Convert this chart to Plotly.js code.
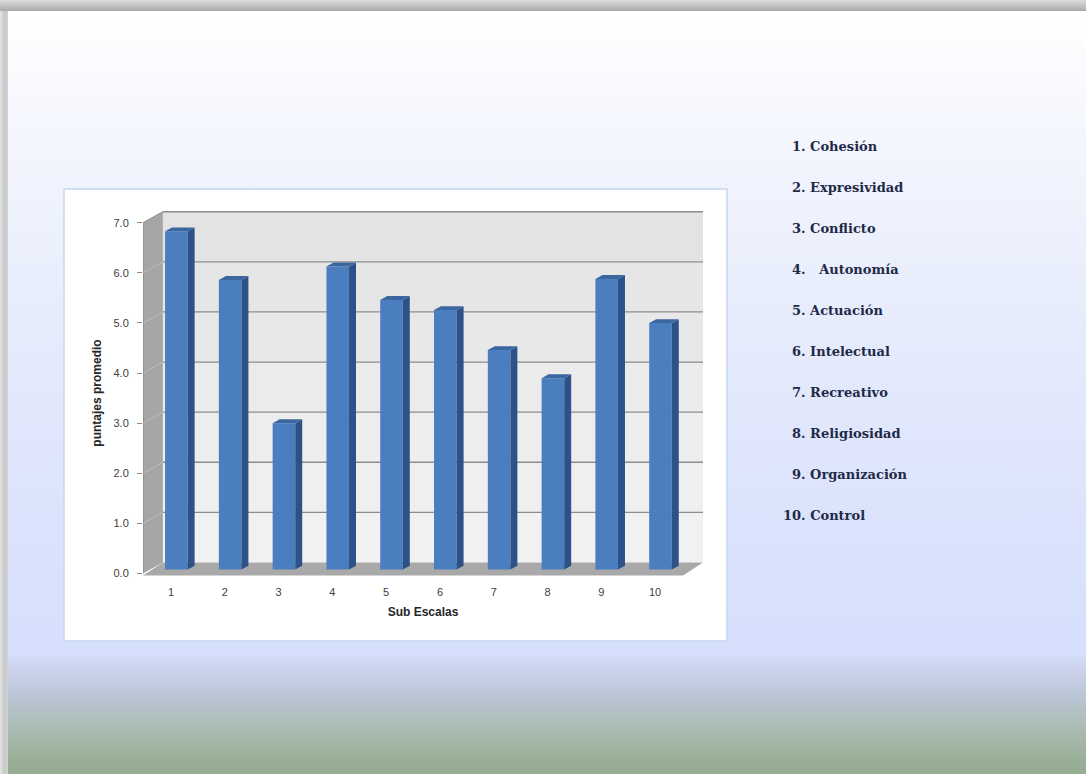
<!DOCTYPE html>
<html>
<head>
<meta charset="utf-8">
<script src="https://cdn.plot.ly/plotly-3.0.1.min.js"></script>
<style>
  html, body { margin: 0; padding: 0; }
  body {
    width: 1086px; height: 774px; overflow: hidden; position: relative;
    background: linear-gradient(to bottom, #ffffff 0px, #ffffff 14px, #f6f8fe 110px, #e8edfc 300px, #dbe3fc 520px, #d6dffc 652px, #cad2ea 672px, #bcc7d8 694px, #abbcb4 728px, #9aaf97 760px, #95ab92 774px);
  }
  #topband { position: absolute; left: 0; top: 0; width: 1086px; height: 11px;
    background: linear-gradient(to bottom, #dcdcdc, #b9b9b9 70%, #a9a9a9); }
  #leftband { position: absolute; left: 0; top: 11px; width: 8px; height: 763px;
    background: linear-gradient(to right, #e4e4e4, #c6c6c6 60%, #d4d4d4); }
  #chart { position: absolute; left: 0; top: 0; width: 1086px; height: 774px; }
</style>
</head>
<body>
<div id="topband"></div>
<div id="leftband"></div>
<div id="chart"></div>
<script>
// ---- data ----
const subscaleIds = [1, 2, 3, 4, 5, 6, 7, 8, 9, 10];
const meanScores = [6.75, 5.78, 2.92, 6.05, 5.38, 5.18, 4.38, 3.82, 5.8, 4.92];
const subscaleNames = ['1. Cohesión', '2. Expresividad', '3. Conflicto', '4.   Autonomía', '5. Actuación',
  '6. Intelectual', '7. Recreativo', '8. Religiosidad', '9. Organización', '10. Control'];
const yTickValues = [0, 1, 2, 3, 4, 5, 6, 7];
const yTickLabels = ['0.0', '1.0', '2.0', '3.0', '4.0', '5.0', '6.0', '7.0'];

// ---- 3D look constants (style only) ----
const DX = 0.37, DY = 0.22;           // full depth offset in axis units
const X0 = 0.48, X1 = 10.52;          // floor front left/right
const YTOP = 7;
const BAR_W = 0.42, BAR_OFF = -0.11;  // front face width / offset
const BAR_F = 0.36;                   // bar front depth fraction
const BAR_D = 0.35;                   // bar depth fraction
const base = BAR_F * DY;
const bdx = BAR_D * DX, bdy = BAR_D * DY;

const L = 143, R = 383, T = 210, B = 198, W = 1086, H = 774;
const pw = W - L - R, ph = H - T - B;
const px2x = px => (px - L) / pw;
const py2y = py => (H - B - py) / ph;

function poly(pts) {
  return 'M ' + pts.map(p => p[0] + ',' + p[1]).join(' L ') + ' Z';
}

const shapes = [];
// white chart box
shapes.push({type: 'rect', xref: 'paper', yref: 'paper', layer: 'below',
  x0: px2x(64), x1: px2x(727), y0: py2y(641), y1: py2y(189),
  fillcolor: '#ffffff', line: {color: '#c3d7ee', width: 1.5}});
// back wall, in bands getting lighter toward the floor
const wallShades = ['#f1f1f1', '#efefef', '#ededed', '#ebebeb', '#e8e8e8', '#e6e6e6', '#e3e3e3'];
wallShades.forEach((c, k) => {
  shapes.push({type: 'path', xref: 'x', yref: 'y', layer: 'below',
    path: poly([[X0 + DX, k + DY], [X1 + DX, k + DY], [X1 + DX, k + 1 + DY], [X0 + DX, k + 1 + DY]]),
    fillcolor: c, line: {width: 0}});
});
// left wall
shapes.push({type: 'path', xref: 'x', yref: 'y', layer: 'below',
  path: poly([[X0, 0], [X0 + DX, DY], [X0 + DX, YTOP + DY], [X0, YTOP]]),
  fillcolor: '#a6a6a6', line: {width: 0}});
// floor
shapes.push({type: 'path', xref: 'x', yref: 'y', layer: 'below',
  path: poly([[X0, -0.04], [X1, -0.04], [X1 + DX, DY], [X0 + DX, DY]]),
  fillcolor: '#a9a9a9', line: {width: 0}});
// gridlines
yTickValues.forEach(v => {
  if (v > 0) {
    shapes.push({type: 'line', xref: 'x', yref: 'y', layer: 'below',
      x0: X0 + DX, x1: X1 + DX, y0: v + DY, y1: v + DY,
      line: {color: '#8c8c8c', width: 1.3}});
    shapes.push({type: 'line', xref: 'x', yref: 'y', layer: 'below',
      x0: X0, x1: X0 + DX, y0: v, y1: v + DY,
      line: {color: '#bdbdbd', width: 1}});
  }
});
// front left edge
shapes.push({type: 'line', xref: 'x', yref: 'y', layer: 'below',
  x0: X0, x1: X0, y0: 0, y1: YTOP, line: {color: '#8a8a8a', width: 1.2}});
shapes.push({type: 'line', xref: 'x', yref: 'y', layer: 'below',
  x0: X0, x1: X0 + DX, y0: YTOP, y1: YTOP + DY, line: {color: '#8a8a8a', width: 1}});

// bar side + top faces from the data
const sideX = [], sideY = [], topX = [], topY = [];
subscaleIds.forEach((id, i) => {
  const v = meanScores[i];
  const xl = id + BAR_OFF, xr = id + BAR_OFF + BAR_W;
  const top = base + v;
  sideX.push(xr, xr + bdx, xr + bdx, xr, null);
  sideY.push(base, base + bdy, top + bdy, top, null);
  topX.push(xl, xl + bdx, xr + bdx, xr, null);
  topY.push(top, top + bdy, top + bdy, top, null);
});

const traces = [
  {type: 'bar', x: subscaleIds, y: meanScores, base: base, width: BAR_W, offset: BAR_OFF,
   marker: {color: '#4b7ebe', line: {width: 0}}, name: 'puntajes promedio'},
  {type: 'scatter', mode: 'lines', x: sideX, y: sideY, fill: 'toself',
   fillcolor: '#2d5287', line: {width: 0, color: '#2d5287'}},
  {type: 'scatter', mode: 'lines', x: topX, y: topY, fill: 'toself',
   fillcolor: '#3b669f', line: {width: 0, color: '#3b669f'}}
];

const annotations = subscaleNames.map((name, i) => ({
  xref: 'paper', yref: 'paper', xanchor: 'left', yanchor: 'middle', showarrow: false,
  x: px2x(i === 9 ? 781 : 790), y: py2y(146 + i * 41.1),
  text: name, font: {family: 'DejaVu Serif', size: 13, color: '#1e2a48', weight: 'bold'}
}));

const layout = {
  width: W, height: H,
  margin: {l: L, r: R, t: T, b: B, pad: 0},
  paper_bgcolor: 'rgba(0,0,0,0)', plot_bgcolor: 'rgba(0,0,0,0)',
  showlegend: false, hovermode: false,
  xaxis: {range: [X0, X1 + DX], tickvals: subscaleIds, ticktext: subscaleIds.map(String),
    showgrid: false, zeroline: false, showline: false,
    ticks: 'outside', ticklen: 6, tickcolor: 'rgba(0,0,0,0)',
    tickfont: {family: 'Liberation Sans', size: 11, color: '#404040'},
    title: {text: 'Sub Escalas', standoff: 10,
      font: {family: 'Liberation Sans', size: 12, color: '#262626', weight: 'bold'}}},
  yaxis: {range: [-0.05, YTOP + DY + 0.035], tickvals: yTickValues, ticktext: yTickLabels,
    showgrid: false, zeroline: false, showline: false,
    ticks: 'outside', ticklen: 5, tickcolor: '#8a8a8a', tickwidth: 1, ticklabelstandoff: 6,
    tickfont: {family: 'Liberation Sans', size: 11, color: '#404040'},
    title: {text: 'puntajes promedio', standoff: 9,
      font: {family: 'Liberation Sans', size: 12, color: '#262626', weight: 'bold'}}},
  shapes: shapes,
  annotations: annotations
};

Plotly.newPlot('chart', traces, layout, {displayModeBar: false, staticPlot: true});
</script>
</body>
</html>
